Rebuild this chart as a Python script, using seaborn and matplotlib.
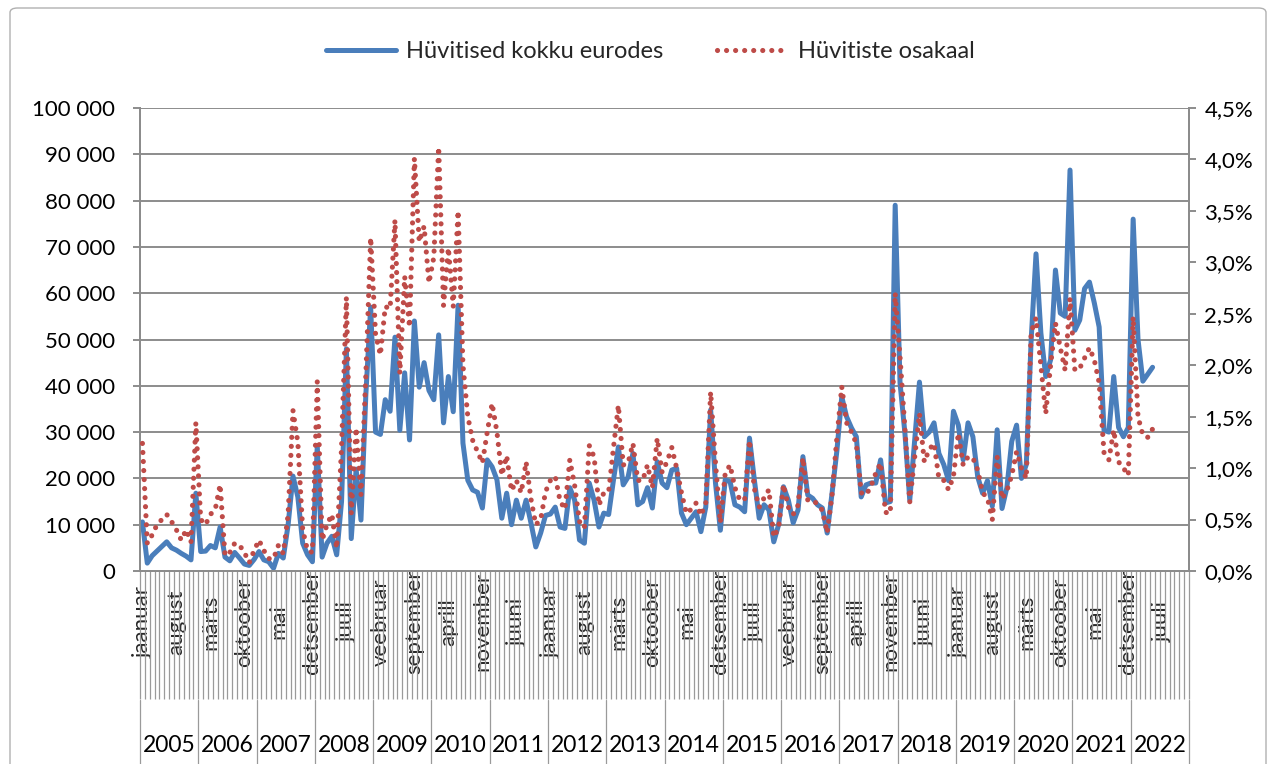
import numpy as np
import pandas as pd
import matplotlib
matplotlib.use("Agg")
import matplotlib.pyplot as plt
import matplotlib.transforms as mtransforms
from matplotlib.patches import FancyBboxPatch
from matplotlib.lines import Line2D
import seaborn as sns

sns.set_theme(style="white")
plt.rcParams["font.family"] = ["Lato", "DejaVu Sans"]

# ---------------- data ----------------
month_names = ["jaanuar", "veebruar", "märts", "aprill", "mai", "juuni",
               "juuli", "august", "september", "oktoober", "november", "detsember"]
years = list(range(2005, 2023))

# Hüvitised kokku eurodes (thousand euro), monthly from 2005-01
blue_2005 = [10.6, 1.7, 3.3, 4.3, 5.3, 6.3, 5.0, 4.5, 3.8, 3.2, 2.4, 16.8]
blue_2006 = [4.2, 4.3, 5.5, 5.0, 9.5, 3.0, 2.2, 4.0, 2.8, 1.5, 1.2, 2.5]
blue_2007 = [4.2, 2.4, 2.0, 0.6, 3.8, 2.8, 10.0, 20.5, 16.0, 6.0, 3.5, 2.0]
blue_2008 = [27.0, 3.0, 6.0, 7.5, 3.5, 15.0, 48.0, 7.0, 22.0, 11.0, 38.0, 57.0]
blue_2009 = [30.0, 29.5, 37.0, 34.5, 50.5, 30.4, 42.8, 28.3, 54.0, 39.7, 45.0, 39.0]
blue_2010 = [37.0, 51.0, 32.0, 42.0, 34.4, 57.4, 27.6, 19.6, 17.5, 17.0, 13.6, 24.0]
blue_2011 = [22.5, 19.7, 11.4, 16.8, 10.0, 15.3, 11.4, 15.3, 10.4, 5.2, 8.2, 12.0]
blue_2012 = [12.3, 13.8, 9.5, 9.2, 18.0, 15.3, 6.7, 6.0, 19.0, 15.3, 9.5, 12.5]
blue_2013 = [12.2, 19.7, 26.8, 18.6, 20.3, 25.4, 14.3, 15.0, 18.0, 13.6, 23.6, 19.0]
blue_2014 = [18.0, 21.8, 22.2, 12.5, 10.0, 11.4, 12.8, 8.5, 13.8, 34.8, 19.0, 8.8]
blue_2015 = [19.7, 19.3, 14.3, 13.8, 12.8, 28.7, 19.7, 11.4, 14.3, 13.2, 6.3, 10.0]
blue_2016 = [18.2, 15.3, 10.4, 13.2, 24.7, 16.4, 15.7, 14.3, 13.6, 8.2, 16.8, 26.0]
blue_2017 = [37.6, 33.3, 30.9, 29.0, 16.0, 18.6, 19.0, 19.0, 24.0, 14.7, 15.0, 79.0]
blue_2018 = [40.6, 29.8, 15.3, 28.0, 40.8, 29.0, 30.0, 32.0, 25.4, 23.0, 19.5, 34.5]
blue_2019 = [31.5, 24.0, 32.0, 29.0, 20.3, 16.8, 19.5, 14.0, 30.5, 13.5, 18.0, 28.0]
blue_2020 = [31.5, 20.0, 23.0, 50.0, 68.5, 51.4, 42.0, 45.6, 65.0, 55.7, 55.0, 86.6]
blue_2021 = [52.0, 54.2, 61.0, 62.4, 57.9, 52.7, 30.4, 30.0, 42.0, 31.0, 29.0, 31.0]
blue_2022 = [76.0, 50.0, 41.0, 42.5, 44.0]

# Hüvitiste osakaal (%)
red_2005 = [1.24, 0.27, 0.35, 0.45, 0.50, 0.55, 0.48, 0.40, 0.30, 0.40, 0.28, 1.44]
red_2006 = [0.50, 0.45, 0.55, 0.60, 0.84, 0.15, 0.18, 0.27, 0.25, 0.18, 0.08, 0.20]
red_2007 = [0.30, 0.20, 0.12, 0.12, 0.25, 0.17, 0.55, 1.56, 1.25, 0.40, 0.20, 0.18]
red_2008 = [1.84, 0.30, 0.45, 0.55, 0.22, 1.20, 2.66, 0.56, 1.39, 0.74, 1.90, 3.24]
red_2009 = [2.30, 2.10, 2.57, 2.55, 3.41, 1.92, 2.86, 2.37, 4.01, 3.20, 3.35, 2.80]
red_2010 = [3.05, 4.12, 2.58, 3.14, 2.57, 3.50, 2.00, 1.50, 1.27, 1.16, 1.05, 1.35]
red_2011 = [1.63, 1.35, 0.93, 1.12, 0.78, 0.88, 0.76, 1.06, 0.70, 0.45, 0.50, 0.77]
red_2012 = [0.88, 0.92, 0.68, 0.60, 1.08, 0.83, 0.48, 0.42, 1.22, 1.11, 0.64, 0.76]
red_2013 = [0.77, 1.20, 1.61, 1.03, 1.05, 1.24, 0.88, 0.88, 1.03, 0.81, 1.29, 0.96]
red_2014 = [1.06, 1.20, 1.00, 0.76, 0.56, 0.60, 0.66, 0.54, 0.66, 1.74, 1.05, 0.47]
red_2015 = [0.95, 1.03, 0.81, 0.69, 0.69, 1.27, 0.80, 0.62, 0.71, 0.79, 0.33, 0.42]
red_2016 = [0.84, 0.62, 0.55, 0.64, 1.10, 0.69, 0.69, 0.65, 0.59, 0.37, 0.74, 1.30]
red_2017 = [1.79, 1.44, 1.35, 1.24, 0.76, 0.74, 0.82, 0.95, 1.05, 0.57, 0.56, 2.70]
red_2018 = [2.08, 1.39, 0.67, 1.10, 1.53, 1.06, 1.18, 1.24, 0.90, 0.88, 0.79, 0.92]
red_2019 = [1.34, 1.03, 1.11, 1.10, 0.98, 0.76, 0.71, 0.50, 1.11, 0.70, 0.78, 0.93]
red_2020 = [1.16, 1.00, 0.90, 2.32, 2.46, 2.00, 1.53, 2.00, 2.41, 2.17, 1.95, 2.65]
red_2021 = [1.95, 1.97, 2.07, 2.17, 2.05, 1.83, 1.15, 1.08, 1.37, 1.06, 1.00, 0.93]
red_2022 = [2.47, 1.50, 1.32, 1.30, 1.38]

blue_k = (blue_2005 + blue_2006 + blue_2007 + blue_2008 + blue_2009 + blue_2010 +
          blue_2011 + blue_2012 + blue_2013 + blue_2014 + blue_2015 + blue_2016 +
          blue_2017 + blue_2018 + blue_2019 + blue_2020 + blue_2021 + blue_2022)
red_pct = (red_2005 + red_2006 + red_2007 + red_2008 + red_2009 + red_2010 +
           red_2011 + red_2012 + red_2013 + red_2014 + red_2015 + red_2016 +
           red_2017 + red_2018 + red_2019 + red_2020 + red_2021 + red_2022)

label_1 = "Hüvitised kokku eurodes"
label_2 = "Hüvitiste osakaal"

n_cat = len(years) * 12
df = pd.DataFrame({
    "idx": np.arange(len(blue_k)),
    "eur": np.array(blue_k) * 1000.0,
    "pct": np.array(red_pct),
})

# ---------------- figure ----------------
W, H = 1272, 764
fig = plt.figure(figsize=(W / 100, H / 100), dpi=100)
fig.patch.set_facecolor("white")

L, R, T, B = 140, 1189, 108, 571
ax = fig.add_axes([L / W, (H - B) / H, (R - L) / W, (B - T) / H])
ax.set_facecolor("white")

BLUE = "#4a7ebb"
RED = "#be4b48"
GRID = "#8c8c8c"
FS = 16
DOT = (0, (0.01, 1.75))

sns.lineplot(data=df, x="idx", y="eur", ax=ax, color=BLUE, linewidth=3.6,
             legend=False, zorder=3)
ax.lines[0].set_solid_capstyle("round")
ax.lines[0].set_solid_joinstyle("round")

ax2 = ax.twinx()
sns.lineplot(data=df, x="idx", y="pct", ax=ax2, color=RED, linewidth=3.7,
             linestyle=DOT, legend=False, zorder=4)
ax2.lines[0].set_dash_capstyle("round")

ax.set_xlim(-0.5, n_cat - 0.5)
ax.set_ylim(0, 100000)
ax2.set_ylim(0, 4.5)

ax.set_yticks(np.arange(0, 100001, 10000))
ax.set_yticklabels([f"{int(v):,}".replace(",", " ") for v in np.arange(0, 100001, 10000)])
ax2.set_yticks(np.arange(0, 4.51, 0.5))
ax2.set_yticklabels([f"{v:.1f}%".replace(".", ",") for v in np.arange(0, 4.51, 0.5)])

ax.yaxis.grid(True, color=GRID, linewidth=1.4)
ax.xaxis.grid(False)
ax2.grid(False)
ax.set_axisbelow(True)

for a in (ax, ax2):
    a.spines["top"].set_visible(False)
    for s in ["left", "right", "bottom"]:
        a.spines[s].set_color(GRID)
        a.spines[s].set_linewidth(1.4)
    a.set_xlabel("")
    a.set_ylabel("")

ax.tick_params(axis="y", which="both", left=True, length=5, width=1.4,
               color=GRID, labelsize=FS, pad=13, labelcolor="#000000")
ax2.tick_params(axis="y", which="both", right=True, length=5, width=1.4,
                color=GRID, labelsize=FS, pad=6, labelcolor="#000000")

# x axis: month ticks at every category boundary, labels every 7 months
boundaries = np.arange(-0.5, n_cat, 1.0)
ax.set_xticks(boundaries, minor=True)
ax.tick_params(axis="x", which="minor", bottom=True, length=92, width=0.9,
               color="#9a9a9a", direction="out")
label_pos = np.arange(0, n_cat, 7)
ax.set_xticks(label_pos)
ax.set_xticklabels([month_names[i % 12] for i in label_pos], rotation=90,
                   fontsize=FS, va="center", ha="center")
ax.tick_params(axis="x", which="major", bottom=False, length=0, pad=0)
for t in ax.get_xticklabels():
    t.set_y(-0.11)

# year level
trans = mtransforms.blended_transform_factory(ax.transData, ax.transAxes)
for k, yr in enumerate(years):
    ax.text(12 * k + 5.5, (B - 745) / (B - T), str(yr), transform=trans,
            ha="center", va="center", fontsize=FS + 0.5, color="#000000",
            clip_on=False)
for k in range(len(years) + 1):
    x = 12 * k - 0.5
    ax.add_line(Line2D([x, x], [(B - 700) / (B - T), (B - 764) / (B - T)],
                       transform=trans, color="#9a9a9a", linewidth=0.9,
                       clip_on=False))

# legend
h1 = Line2D([], [], color=BLUE, linewidth=3.6)
h2 = Line2D([], [], color=RED, linewidth=3.7, linestyle=DOT,
            dash_capstyle="round")
leg = fig.legend([h1, h2], [label_1, label_2], loc="center",
                 bbox_to_anchor=(650 / W, 1 - 52 / H), ncol=2, frameon=False,
                 fontsize=FS + 1, handlelength=3.0, columnspacing=2.3,
                 handletextpad=0.4)

# outer chart border
fig.patches.append(FancyBboxPatch((10 / W, -0.02), (W - 16) / W, 1 - 8 / H + 0.02,
                                  boxstyle="round,pad=0,rounding_size=0.006",
                                  transform=fig.transFigure, facecolor="none",
                                  edgecolor="#b0b0b0", linewidth=1.0))

fig.savefig("out.png", dpi=100, facecolor="white")
